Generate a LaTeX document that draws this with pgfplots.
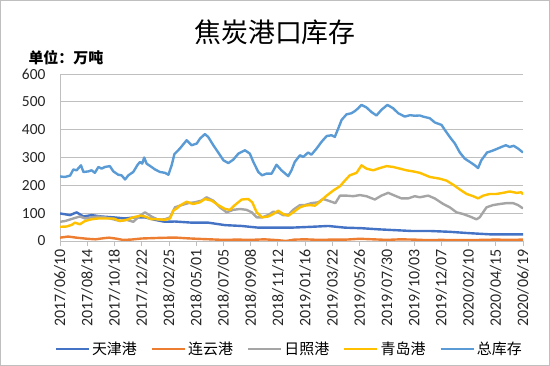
\documentclass[border=0pt]{standalone}
\usepackage{pgfplots}
\pgfplotsset{compat=1.18}
\usepackage{fontspec}
\setmainfont{Carlito}
\newfontfamily\cjk{Noto Sans CJK SC}
\definecolor{tj}{HTML}{4472C4}
\definecolor{lyg}{HTML}{ED7D31}
\definecolor{rz}{HTML}{A5A5A5}
\definecolor{qd}{HTML}{FFC000}
\definecolor{tot}{HTML}{5B9BD5}
\definecolor{gridc}{HTML}{BFBFBF}
\begin{document}
\begin{tikzpicture}
\useasboundingbox (0,0) rectangle (550bp,366bp);
\draw[gray!50, line width=0.8bp] (0.5bp,0.5bp) rectangle (549.5bp,365.5bp);
\node[font=\cjk\fontsize{27}{30}\selectfont] at (275bp,334bp) {焦炭港口库存};
\node[anchor=west, font=\cjk\bfseries\fontsize{15}{18}\selectfont] at (25bp,308bp) {单位：万吨};
\begin{axis}[
  at={(60bp,125bp)}, anchor=south west,
  scale only axis, width=463bp, height=167bp,
  xmin=0, xmax=17, ymin=0, ymax=600,
  axis x line*=bottom, axis y line*=left,
  axis line style={gridc, line width=0.8bp},
  ytick={0,100,...,600}, ymajorgrids,
  grid style={gridc, line width=0.8bp},
  xtick={0,...,17},
  xticklabels={2017/06/10,2017/08/14,2017/10/18,2017/12/22,2018/02/25,2018/05/01,2018/07/05,2018/09/08,2018/11/12,2019/01/16,2019/03/22,2019/05/26,2019/07/30,2019/10/03,2019/12/07,2020/02/10,2020/04/15,2020/06/19},
  /pgf/number format/assume math mode=true,
  x tick label style={rotate=90, anchor=east, font=\fontsize{16}{19}\selectfont, text=black!85},
  y tick label style={font=\fontsize{15.5}{18}\selectfont, text=black!85, xshift=-6bp},
  tick align=outside, major tick length=5bp,
  x tick style={gridc, line width=0.8bp},
  y tick style={draw=none},
  legend columns=5,
  legend style={at={(0.495,-0.647)}, anchor=center, draw=none, fill=none,
    font=\cjk\fontsize{15}{18}\selectfont,
    /tikz/every even column/.append style={column sep=12bp}},
  legend image code/.code={\draw[#1] (0bp,0bp) -- (33bp,0bp);},
  every axis plot/.append style={line width=2.4bp, no markers, line join=round},
]
\addplot[tj] coordinates {
(0,99)(0.37,93)(0.61,103)(0.86,88)(1.16,93)(1.53,88)(1.96,85)(2.39,81)(2.75,85)(3.12,85)(3.49,76)(3.85,69)(4.22,70)(4.83,66)(5.44,66)(6.06,57)(6.67,54)(7.28,48)(7.89,48)(8.50,48)(9.23,51)(9.85,54)(10.46,48)(11.07,46)(11.68,42)(12.29,39)(12.90,36)(13.58,36)(14.31,33)(15.05,28)(15.78,24)(16.51,24)(17.0,24)
};
\addlegendentry{天津港}
\addplot[lyg] coordinates {
(0,12)(0.3,16)(0.6,12)(1.0,8)(1.3,6)(1.6,10)(1.8,12)(2.1,8)(2.3,4)(2.6,5)(3.0,9)(3.3,10)(3.6,11)(4.0,12)(4.3,12)(4.6,10)(5.0,8)(5.5,6)(6.0,4)(6.5,5)(7.0,4)(7.5,6)(8.0,3)(8.3,0)(8.6,5)(9.0,6)(9.5,4)(10.0,5)(10.5,5)(11.0,8)(11.5,6)(12.0,4)(12.5,6)(13.0,5)(13.5,3)(14.0,4)(14.5,3)(15.0,3)(15.5,4)(16.0,5)(16.5,4)(17.0,5)
};
\addlegendentry{连云港}
\addplot[rz] coordinates {
(0,69)(0.2,72)(0.49,81)(0.73,88)(0.92,81)(1.16,85)(1.41,88)(1.65,85)(1.96,78)(2.20,72)(2.45,76)(2.69,69)(2.94,91)(3.12,103)(3.36,88)(3.61,76)(3.85,78)(4.04,85)(4.22,121)(4.46,129)(4.71,136)(4.95,139)(5.20,145)(5.38,157)(5.63,145)(5.87,121)(6.12,103)(6.36,112)(6.61,115)(6.85,112)(7.04,103)(7.22,85)(7.42,85)(7.64,93)(7.83,105)(8.01,103)(8.19,93)(8.38,93)(8.56,112)(8.81,129)(8.99,129)(9.23,136)(9.48,139)(9.66,151)(9.85,145)(10.11,136)(10.28,163)(10.52,163)(10.77,161)(11.01,165)(11.25,161)(11.56,149)(11.80,163)(12.05,173)(12.29,163)(12.54,153)(12.78,153)(13.03,161)(13.21,157)(13.52,163)(13.76,153)(14.07,133)(14.31,121)(14.56,103)(14.80,97)(15.05,88)(15.29,78)(15.41,85)(15.66,121)(15.90,129)(16.15,133)(16.39,136)(16.64,136)(16.82,129)(17.0,117)
};
\addlegendentry{日照港}
\addplot[qd] coordinates {
(0,51)(0.24,52)(0.43,58)(0.55,66)(0.73,60)(0.92,72)(1.16,78)(1.41,81)(1.65,81)(1.96,81)(2.20,72)(2.45,76)(2.69,85)(2.94,91)(3.12,88)(3.36,78)(3.61,78)(3.85,76)(4.04,81)(4.16,109)(4.30,118)(4.40,127)(4.65,141)(4.89,133)(5.14,139)(5.32,151)(5.57,145)(5.81,129)(6.06,115)(6.24,112)(6.42,129)(6.67,149)(6.91,151)(7.06,139)(7.22,103)(7.42,85)(7.64,88)(7.83,97)(8.01,109)(8.19,97)(8.38,91)(8.56,103)(8.81,121)(8.99,127)(9.17,129)(9.36,127)(9.54,141)(9.79,163)(10.03,181)(10.28,197)(10.46,217)(10.64,236)(10.89,245)(11.07,272)(11.25,260)(11.50,254)(11.74,262)(11.99,269)(12.23,266)(12.48,260)(12.72,254)(12.97,250)(13.21,245)(13.58,230)(13.94,224)(14.19,217)(14.44,202)(14.68,185)(14.93,169)(15.17,161)(15.35,153)(15.54,163)(15.78,169)(16.02,169)(16.27,173)(16.51,178)(16.76,173)(16.94,175)(17.0,167)
};
\addlegendentry{青岛港}
\addplot[tot] coordinates {
(0,232)(0.18,230)(0.37,235)(0.49,257)(0.61,254)(0.77,272)(0.86,248)(1.04,250)(1.16,254)(1.28,245)(1.41,266)(1.53,260)(1.65,266)(1.83,269)(1.96,250)(2.14,238)(2.26,236)(2.39,221)(2.51,236)(2.69,248)(2.85,274)(2.94,284)(3.02,278)(3.09,300)(3.18,278)(3.36,266)(3.49,257)(3.67,248)(3.85,245)(3.98,238)(4.10,272)(4.20,312)(4.40,332)(4.65,362)(4.83,344)(5.02,350)(5.14,368)(5.32,384)(5.44,374)(5.63,344)(5.81,318)(6.00,290)(6.18,280)(6.36,292)(6.55,314)(6.79,326)(6.97,314)(7.10,284)(7.28,248)(7.42,236)(7.58,242)(7.77,242)(7.95,274)(8.13,254)(8.38,233)(8.50,254)(8.62,284)(8.81,308)(8.93,302)(9.11,318)(9.23,310)(9.42,332)(9.60,356)(9.79,377)(9.97,380)(10.09,374)(10.22,405)(10.34,435)(10.52,455)(10.70,459)(10.83,467)(10.95,477)(11.07,489)(11.25,480)(11.44,463)(11.62,451)(11.80,471)(12.02,489)(12.23,477)(12.42,459)(12.66,447)(12.85,452)(13.03,450)(13.21,451)(13.33,447)(13.58,441)(13.76,426)(14.01,417)(14.13,399)(14.31,374)(14.50,350)(14.68,318)(14.86,296)(15.05,284)(15.23,272)(15.35,262)(15.47,290)(15.68,318)(15.84,323)(16.02,330)(16.21,338)(16.37,344)(16.51,338)(16.66,342)(16.82,332)(17.0,318)
};
\addlegendentry{总库存}
\end{axis}
\end{tikzpicture}
\end{document}
